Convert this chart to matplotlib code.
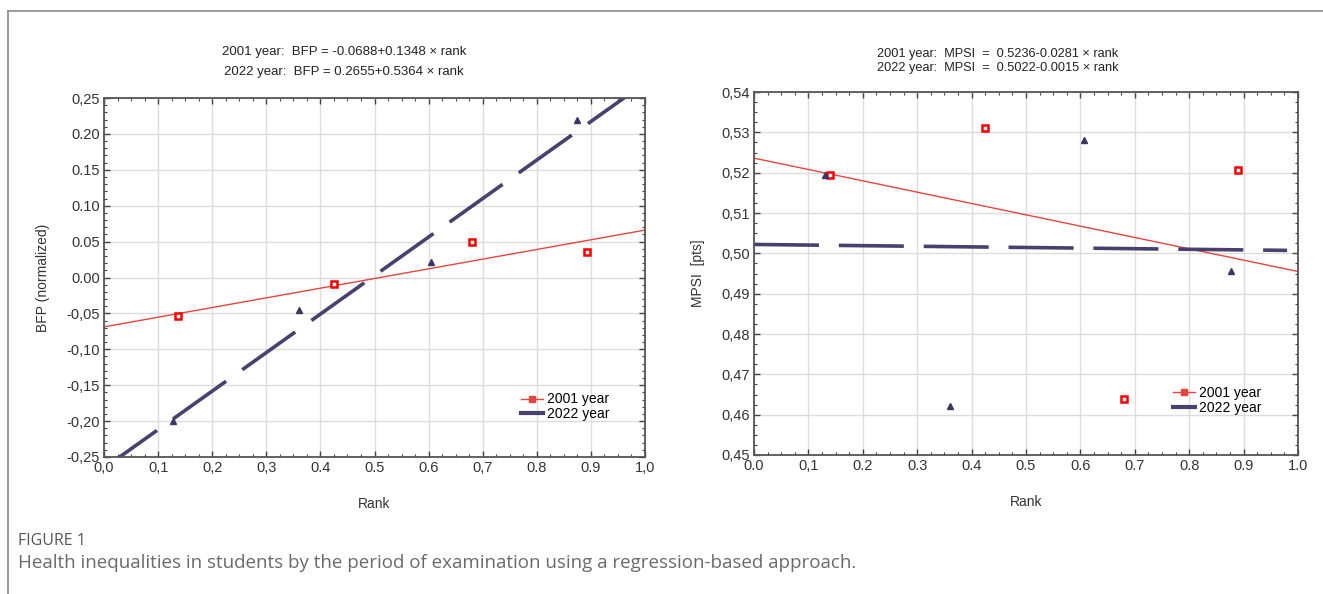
import numpy as np
import matplotlib.pyplot as plt
from matplotlib.ticker import MultipleLocator, FixedLocator, FixedFormatter
from matplotlib.lines import Line2D

# ---- data ----
bfp_rank_2001 = [0.137, 0.425, 0.680, 0.893]
bfp_2001 = [-0.053, -0.009, 0.049, 0.036]
bfp_rank_2022 = [0.128, 0.360, 0.605, 0.875]
bfp_2022 = [-0.200, -0.045, 0.021, 0.219]
bfp_coef_2001 = (-0.0688, 0.1348)
bfp_coef_2022 = (-0.2655, 0.5364)

mpsi_rank_2001 = [0.140, 0.425, 0.680, 0.890]
mpsi_2001 = [0.5195, 0.5311, 0.4640, 0.5206]
mpsi_rank_2022 = [0.130, 0.360, 0.607, 0.877]
mpsi_2022 = [0.5195, 0.4622, 0.5282, 0.4956]
mpsi_coef_2001 = (0.5236, -0.0281)
mpsi_coef_2022 = (0.5022, -0.0015)

x_ticks = [0.0, 0.1, 0.2, 0.3, 0.4, 0.5, 0.6, 0.7, 0.8, 0.9, 1.0]
left_x_labels = ["0,0", "0,1", "0,2", "0,3", "0.4", "0.5", "0.6", "0,7", "0.8", "0.9", "1,0"]
right_x_labels = ["0.0", "0,1", "0.2", "0.3", "0.4", "0.5", "0.6", "0.7", "0.8", "0.9", "1.0"]
left_y_ticks = [0.25, 0.20, 0.15, 0.10, 0.05, 0.00, -0.05, -0.10, -0.15, -0.20, -0.25]
left_y_labels = ["0,25", "0.20", "0.15", "0.10", "0.05", "0.00", "-0,05", "-0,10", "-0,15", "-0,20", "-0,25"]
right_y_ticks = [0.54, 0.53, 0.52, 0.51, 0.50, 0.49, 0.48, 0.47, 0.46, 0.45]
right_y_labels = ["0,54", "0,53", "0,52", "0,51", "0,50", "0,49", "0,48", "0,47", "0,46", "0,45"]

plt.rcParams['font.family'] = ['Liberation Sans', 'DejaVu Sans']

RED = '#e5453f'
NAVY = '#4a3f6e'
TRI = '#3c3566'

fig = plt.figure(figsize=(13.23, 5.94), dpi=100)
fig.patch.set_facecolor('white')

# card frame (top and left edge)
fig.add_artist(Line2D([8 / 1323, 1.0], [1 - 11 / 594, 1 - 11 / 594], color='#8a8a8a', lw=1.2))
fig.add_artist(Line2D([8 / 1323, 8 / 1323], [0.0, 1 - 11 / 594], color='#8a8a8a', lw=1.2))


def style_axes(ax, yticks, ylabels, xlabels, ymin_step):
    ax.set_xlim(0, 1)
    ax.xaxis.set_major_locator(FixedLocator(x_ticks))
    ax.xaxis.set_major_formatter(FixedFormatter(xlabels))
    ax.yaxis.set_major_locator(FixedLocator(yticks))
    ax.yaxis.set_major_formatter(FixedFormatter(ylabels))
    ax.xaxis.set_minor_locator(MultipleLocator(0.025))
    ax.yaxis.set_minor_locator(MultipleLocator(ymin_step))
    ax.tick_params(which='both', direction='in', top=True, right=True,
                   color='#444444', labelsize=10.5, labelcolor='#333333')
    ax.tick_params(which='major', length=4, width=1, pad=3)
    ax.tick_params(which='minor', length=2.5, width=0.8)
    ax.grid(True, which='major', color='#dcdcdc', lw=1)
    ax.set_axisbelow(True)
    for s in ax.spines.values():
        s.set_color('#555555')
        s.set_linewidth(1.3)
    ax.set_xlabel('Rank', fontsize=10, color='#333333', labelpad=16)


xs = np.linspace(0, 1, 200)

# ---- left panel ----
ax1 = fig.add_axes([104 / 1323, 1 - 457 / 594, 541 / 1323, 359 / 594])
ax1.set_ylim(-0.25, 0.25)
ax1.plot(xs, bfp_coef_2001[0] + bfp_coef_2001[1] * xs, color=RED, lw=1)
ax1.plot(xs, bfp_coef_2022[0] + bfp_coef_2022[1] * xs, color=NAVY, lw=2.6,
         dashes=(18, 5.5), dash_capstyle='butt')
ax1.plot(bfp_rank_2001, bfp_2001, ls='none', marker='s', ms=4.5, mfc='white',
         mec='#ff0000', mew=1.8)
ax1.plot(bfp_rank_2022, bfp_2022, ls='none', marker='^', ms=4, color=TRI)
style_axes(ax1, left_y_ticks, left_y_labels, left_x_labels, 0.01)
ax1.set_ylabel('BFP (normalized)', fontsize=10, color='#333333', labelpad=12)
fig.text(344 / 1323, 1 - 52 / 594, '2001 year:  BFP = -0.0688+0.1348 \u00d7 rank',
         ha='center', va='center', fontsize=9.5, color='#222222')
fig.text(344 / 1323, 1 - 72 / 594, '2022 year:  BFP = 0.2655+0.5364 \u00d7 rank',
         ha='center', va='center', fontsize=9.5, color='#222222')

# ---- right panel ----
ax2 = fig.add_axes([754 / 1323, 1 - 455 / 594, 544 / 1323, 363 / 594])
ax2.set_ylim(0.45, 0.54)
ax2.plot(xs, mpsi_coef_2001[0] + mpsi_coef_2001[1] * xs, color=RED, lw=1)
xs2 = np.linspace(0, 0.98, 200)
ax2.plot(xs2, mpsi_coef_2022[0] + mpsi_coef_2022[1] * xs2, color=NAVY, lw=2.6,
         dashes=(18, 5.5), dash_capstyle='butt')
ax2.plot(mpsi_rank_2001, mpsi_2001, ls='none', marker='s', ms=4.5, mfc='white',
         mec='#ff0000', mew=1.8)
ax2.plot(mpsi_rank_2022, mpsi_2022, ls='none', marker='^', ms=4, color=TRI)
style_axes(ax2, right_y_ticks, right_y_labels, right_x_labels, 0.0025)
ax2.set_ylabel('MPSI  [pts]', fontsize=10, color='#333333', labelpad=12)
fig.text(998 / 1323, 1 - 54 / 594, '2001 year:  MPSI  =  0.5236-0.0281 \u00d7 rank',
         ha='center', va='center', fontsize=9.2, color='#222222')
fig.text(998 / 1323, 1 - 68 / 594, '2022 year:  MPSI  =  0.5022-0.0015 \u00d7 rank',
         ha='center', va='center', fontsize=9.2, color='#222222')

# legends
for ax, anchor in ((ax1, (0.77, 0.18)), (ax2, (0.77, 0.19))):
    h1 = Line2D([], [], color=RED, lw=1, marker='s', ms=4, mfc=RED, mec=RED)
    h2 = Line2D([], [], color=NAVY, lw=3)
    ax.legend([h1, h2], ['2001 year', '2022 year'], loc='upper left',
              bbox_to_anchor=anchor, frameon=False, fontsize=10,
              handlelength=1.6, handletextpad=0.3, labelspacing=0.05,
              borderpad=0, borderaxespad=0)

# caption
fig.text(18 / 1323, 1 - 541 / 594, 'FIGURE 1', fontsize=11.5, color='#555555',
         family=['Open Sans', 'DejaVu Sans'], va='center')
fig.text(18 / 1323, 1 - 563 / 594,
         'Health inequalities in students by the period of examination using a regression-based approach.',
         fontsize=13.5, color='#6a6a6a', family=['Open Sans', 'DejaVu Sans'], va='center')

fig.savefig('out.png', dpi=100, facecolor='white')
